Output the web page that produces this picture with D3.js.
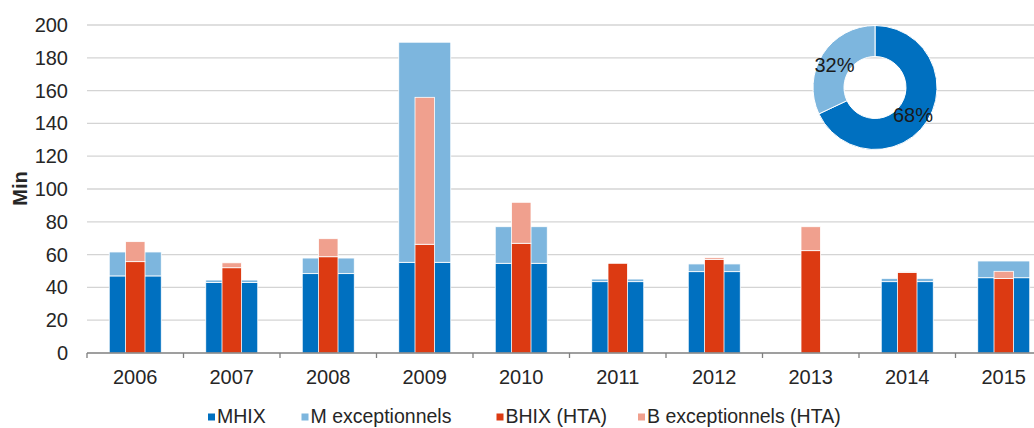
<!DOCTYPE html>
<html><head><meta charset="utf-8">
<script src="https://cdn.jsdelivr.net/npm/d3@7"></script>
<style>
html,body{margin:0;padding:0;background:#fff;overflow:hidden}
svg{display:block;font-family:"Liberation Sans",Arial,sans-serif}
</style></head>
<body>
<svg id="chart" width="1034" height="428"></svg>
<script>
const years = ["2006","2007","2008","2009","2010","2011","2012","2013","2014","2015"];
const mhix  = [47, 43, 48.4, 55.3, 54.7, 43.5, 49.6, 0, 43.5, 45.9];
const mExc  = [14.6, 1.5, 9.5, 134.2, 22.3, 1.6, 4.7, 0, 2, 10.2];
const bhix  = [55.7, 52, 58.7, 66.3, 66.9, 54.7, 57.1, 62.4, 49.2, 45.5];
const bExc  = [12.2, 3, 11, 89.6, 25, 0, 1, 14.6, 0.3, 4.3];
const yTicks = [0,20,40,60,80,100,120,140,160,180,200];
const seriesNames = ["MHIX","M exceptionnels","BHIX (HTA)","B exceptionnels (HTA)"];
const colors = ["#0070c0","#7db6de","#dc3a12","#f0a08e"];
const pieLabels = ["68%","32%"];
const pieValues = [68, 32];
const pieColors = ["#0070c0","#7db6de"];

const svg = d3.select("#chart");
const pLeft = 87, pRight = 1052, pTop = 25, pBottom = 353;
const FONT = "'Liberation Sans', Arial, sans-serif";

const x = d3.scaleBand().domain(years).range([pLeft, pRight]).paddingInner(0.461).paddingOuter(0.2305);
const xSlot = d3.scaleBand().domain(years).range([pLeft, pRight]).padding(0);
const y = d3.scaleLinear().domain([0, 200]).range([pBottom, pTop]);

// gridlines
svg.append("g").selectAll("line").data(yTicks.filter(t => t > 0)).join("line")
  .attr("x1", pLeft).attr("x2", 1034)
  .attr("y1", d => y(d)).attr("y2", d => y(d))
  .attr("stroke", "#d4d4d4").attr("stroke-width", 1.3);

// y tick labels
const yAxis = d3.axisLeft(y).tickValues(yTicks).tickSize(0).tickPadding(0);
const gy = svg.append("g").attr("transform", `translate(${pLeft - 19},0)`).call(yAxis);
gy.select(".domain").remove();
gy.selectAll("text").attr("font-size", 20).attr("fill", "#262626").attr("font-family", FONT);

// y title
svg.append("text").attr("transform", "translate(26.5,188.5) rotate(-90)")
  .attr("text-anchor", "middle").attr("font-size", 20).attr("font-weight", "bold")
  .attr("fill", "#262626").text("Min");

// stacks
const rows = years.map((yr, i) => ({year: yr, mhix: mhix[i], mExc: mExc[i], bhix: bhix[i], bExc: bExc[i]}));
const mStack = d3.stack().keys(["mhix","mExc"])(rows);
const bStack = d3.stack().keys(["bhix","bExc"])(rows);

const redW = 19.5;
mStack.forEach((layer, li) => {
  svg.append("g").selectAll("rect").data(layer.filter(d => d[1] - d[0] > 0)).join("rect")
    .attr("x", d => x(d.data.year))
    .attr("width", x.bandwidth())
    .attr("y", d => y(d[1]))
    .attr("height", d => y(d[0]) - y(d[1]))
    .attr("fill", colors[li]).attr("stroke", "#ffffff").attr("stroke-width", 0.8);
});
bStack.forEach((layer, li) => {
  svg.append("g").selectAll("rect").data(layer.filter(d => d[1] - d[0] > 0)).join("rect")
    .attr("x", d => x(d.data.year) + x.bandwidth() / 2 - redW / 2)
    .attr("width", redW)
    .attr("y", d => y(d[1]))
    .attr("height", d => y(d[0]) - y(d[1]))
    .attr("fill", colors[li + 2]).attr("stroke", "#ffffff").attr("stroke-width", 0.8);
});

// x axis
const xAxis = d3.axisBottom(x).tickSize(0).tickPadding(17);
const gx = svg.append("g").attr("transform", `translate(0,${pBottom})`).call(xAxis);
gx.select(".domain").remove();
gx.selectAll("text").attr("font-size", 20).attr("fill", "#262626").attr("font-family", FONT);
svg.append("line").attr("x1", pLeft).attr("x2", 1034).attr("y1", pBottom).attr("y2", pBottom)
  .attr("stroke", "#7f7f7f").attr("stroke-width", 1.3);
const bounds = years.map(yr => xSlot(yr)).concat([pRight]);
svg.append("g").selectAll("line").data(bounds).join("line")
  .attr("x1", d => d).attr("x2", d => d).attr("y1", pBottom).attr("y2", pBottom + 5)
  .attr("stroke", "#7f7f7f").attr("stroke-width", 1.3);

// donut
const pie = d3.pie().sort(null).value(d => d)(pieValues);
const arc = d3.arc().innerRadius(31).outerRadius(62);
const gp = svg.append("g").attr("transform", "translate(875,87.5)");
gp.selectAll("path").data(pie).join("path")
  .attr("d", arc).attr("fill", (d, i) => pieColors[i])
  .attr("stroke", "#fff").attr("stroke-width", 1);
const labelPos = [[38, 27.5], [-40.5, -22.5]];
gp.selectAll("text.pl").data(pieLabels).join("text").attr("class", "pl")
  .attr("x", (d, i) => labelPos[i][0]).attr("y", (d, i) => labelPos[i][1])
  .attr("text-anchor", "middle").attr("font-size", 20).attr("fill", "#1a1a1a")
  .attr("dy", "0.35em").text(d => d);

// legend
const legX = [208, 301.5, 496.5, 638];
const lg = svg.append("g").selectAll("g").data(seriesNames).join("g")
  .attr("transform", (d, i) => `translate(${legX[i]},417)`);
lg.append("rect").attr("x", 0).attr("y", -3.5).attr("width", 7).attr("height", 7)
  .attr("fill", (d, i) => colors[i]);
lg.append("text").attr("x", 9).attr("y", 0).attr("dy", "0.33em")
  .attr("font-size", 19.5).attr("fill", "#262626").attr("font-family", FONT).text(d => d);
</script>
</body></html>
